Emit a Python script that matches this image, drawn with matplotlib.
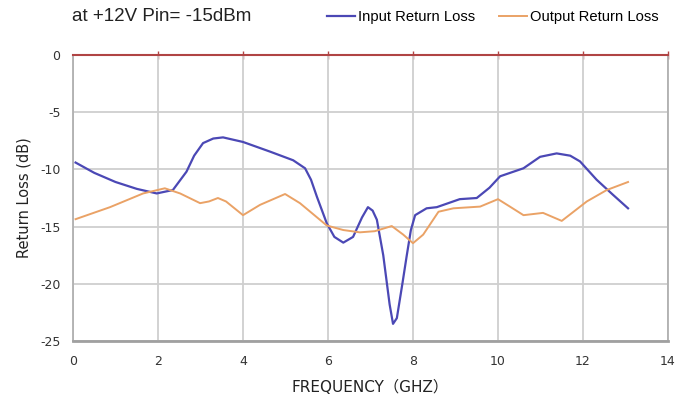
import matplotlib
matplotlib.use("Agg")
import matplotlib.pyplot as plt

plt.rcParams["axes.unicode_minus"] = False

freq_in = [0.06, 0.5, 1.0, 1.5, 1.97, 2.35, 2.67, 2.85, 3.06, 3.3, 3.53, 4.0, 4.64, 5.18, 5.46, 5.6, 5.74, 5.97, 6.15, 6.36, 6.59, 6.8, 6.94, 7.05, 7.15, 7.3, 7.45, 7.53, 7.62, 7.75, 7.85, 7.95, 8.05, 8.32, 8.56, 9.1, 9.5, 9.8, 10.05, 10.6, 10.99, 11.38, 11.7, 11.93, 12.32, 12.7, 13.06]
loss_in = [-9.4, -10.3, -11.1, -11.7, -12.1, -11.8, -10.2, -8.8, -7.7, -7.3, -7.2, -7.6, -8.45, -9.2, -9.9, -10.9, -12.4, -14.7, -15.9, -16.4, -15.9, -14.2, -13.3, -13.6, -14.4, -17.5, -21.8, -23.5, -23.0, -20.0, -17.6, -15.3, -14.0, -13.4, -13.3, -12.6, -12.5, -11.6, -10.6, -9.9, -8.9, -8.6, -8.8, -9.3, -10.9, -12.2, -13.4]

freq_out = [0.06, 0.87, 1.65, 2.16, 2.52, 2.99, 3.2, 3.41, 3.6, 4.0, 4.4, 4.99, 5.34, 5.97, 6.36, 6.75, 7.1, 7.5, 7.77, 8.0, 8.24, 8.6, 8.95, 9.58, 10.0, 10.28, 10.6, 11.06, 11.5, 12.09, 12.56, 13.06]
loss_out = [-14.35, -13.3, -12.1, -11.65, -12.1, -12.95, -12.8, -12.5, -12.8, -14.0, -13.1, -12.15, -12.95, -14.9, -15.3, -15.5, -15.4, -14.95, -15.7, -16.45, -15.7, -13.7, -13.4, -13.25, -12.6, -13.25, -14.0, -13.8, -14.5, -12.8, -11.8, -11.1]

x_ticks = [0, 2, 4, 6, 8, 10, 12, 14]
y_ticks = [0, -5, -10, -15, -20, -25]

title_text = "at +12V Pin= -15dBm"
series_names = ["Input Return Loss", "Output Return Loss"]
x_label = "FREQUENCY（GHZ）"
y_label = "Return Loss (dB)"

fig = plt.figure(figsize=(6.98, 4.01), dpi=100)
ax = fig.add_axes([0.1046, 0.1496, 0.957 - 0.1046, 0.8628 - 0.1496])

blue = "#4b48b5"
orange = "#eaa266"
grid_c = "#cfcfcf"

ax.plot(freq_in, loss_in, color=blue, lw=1.6, label=series_names[0], zorder=3)
ax.plot(freq_out, loss_out, color=orange, lw=1.4, label=series_names[1], zorder=3)

ax.set_xlim(0, 14)
ax.set_ylim(-25, 0)
ax.set_xticks(x_ticks)
ax.set_yticks(y_ticks)
ax.grid(True, color=grid_c, lw=1.3)
ax.set_axisbelow(True)

for s in ["left", "right"]:
    ax.spines[s].set_color("#b0b0b0")
    ax.spines[s].set_linewidth(1.3)
ax.spines["bottom"].set_color("#a0a0a0")
ax.spines["bottom"].set_linewidth(2.0)
ax.spines["top"].set_color("#b04444")
ax.spines["top"].set_linewidth(1.5)
ax.spines["top"].set_zorder(4)

ax.tick_params(axis="both", length=0, labelsize=9, labelcolor="#333333")
ax.tick_params(axis="x", pad=10)
ax.tick_params(axis="y", pad=9)
ax2 = ax.secondary_xaxis("top")
ax2.set_xticks(x_ticks[1:])
ax2.tick_params(direction="inout", length=6, color="#b04444", width=1.0, labeltop=False)
ax2.spines["top"].set_visible(False)

for lab in ax.get_xticklabels() + ax.get_yticklabels():
    lab.set_family("DejaVu Sans")

ax.set_xlabel(x_label, fontsize=11, color="#222222", labelpad=9,
              family=["DejaVu Sans", "Noto Sans CJK SC"])
ax.set_ylabel(y_label, fontsize=10.5, color="#222222", labelpad=6, family="DejaVu Sans")

fig.text(0.103, 0.958, title_text, fontsize=13.5, color="#222222",
         family="Liberation Sans", va="center", ha="left")

leg = fig.legend(loc="center left", bbox_to_anchor=(0.450, 0.957), ncol=2, frameon=False,
                 handlelength=1.9, handletextpad=0.2, columnspacing=1.6,
                 prop={"family": "Liberation Sans", "size": 10.6})

fig.savefig("out.png", dpi=100)
